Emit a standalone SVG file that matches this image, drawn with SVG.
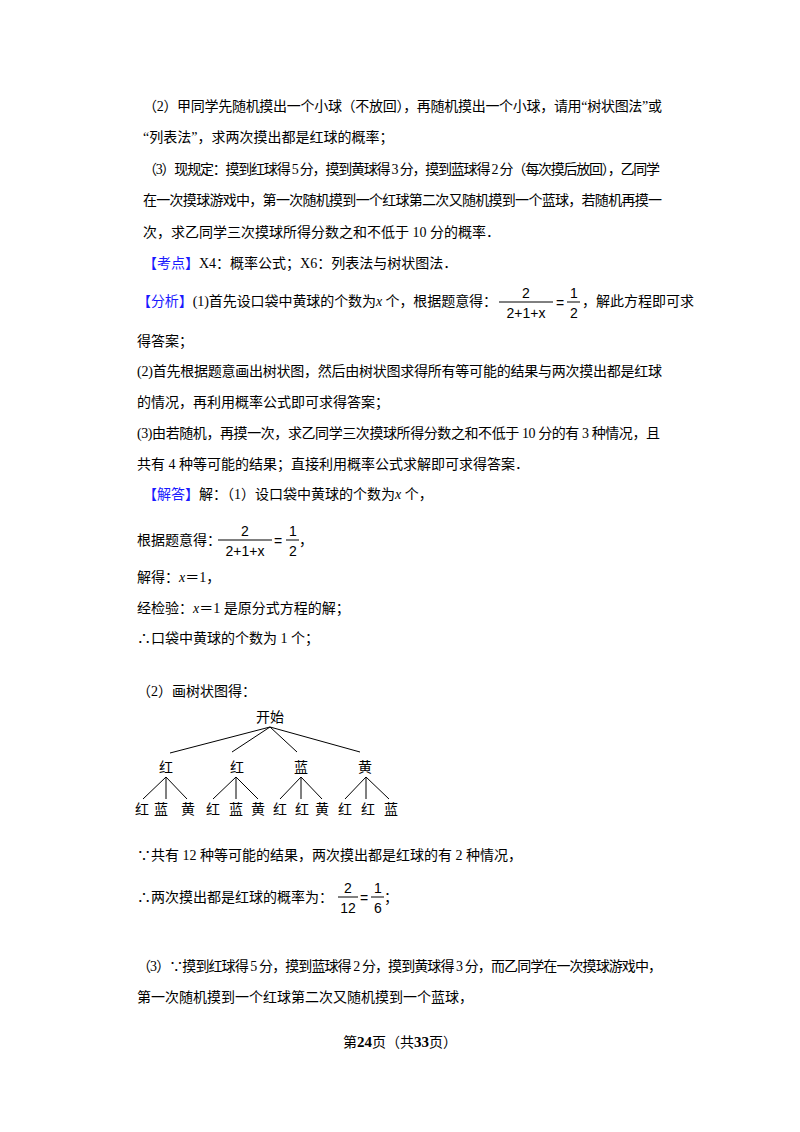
<svg xmlns="http://www.w3.org/2000/svg" width="800" height="1132" viewBox="0 0 800 1132">
<style>
text{font-family:"Liberation Serif","Noto Sans CJK SC",serif;font-size:14px;fill:#000}
.b{fill:#1a1aff}
.s{font-family:"Liberation Sans","Noto Sans CJK SC",sans-serif;font-size:14px}
.t{font-family:"Noto Sans CJK SC",sans-serif;font-size:14px}
line{stroke:#000;stroke-width:1}
</style>
<rect width="800" height="1132" fill="#fff"/>
<text x="143" y="111" textLength="519" lengthAdjust="spacing">（2）甲同学先随机摸出一个小球（不放回），再随机摸出一个小球，请用“树状图法”或</text>
<text x="143" y="142">“列表法”，求两次摸出都是红球的概率；</text>
<text x="143" y="174" textLength="517" lengthAdjust="spacing">（3）现规定：摸到红球得 5 分，摸到黄球得 3 分，摸到蓝球得 2 分（每次摸后放回），乙同学</text>
<text x="143" y="205" textLength="519" lengthAdjust="spacing">在一次摸球游戏中，第一次随机摸到一个红球第二次又随机摸到一个蓝球，若随机再摸一</text>
<text x="143" y="237">次，求乙同学三次摸球所得分数之和不低于 10 分的概率．</text>
<text x="143" y="268"><tspan class="b">【考点】</tspan>X4：概率公式；X6：列表法与树状图法．</text>
<text x="137" y="306" textLength="360" lengthAdjust="spacing"><tspan class="b">【分析】</tspan>(1)首先设口袋中黄球的个数为<tspan font-style="italic">x</tspan> 个，根据题意得：</text>
<g id="frac1">
<text class="s" x="526" y="298" text-anchor="middle">2</text>
<line x1="499" y1="302" x2="553" y2="302"/>
<text class="s" x="526" y="318" text-anchor="middle">2+1+x</text>
<text class="s" x="556" y="308">=</text>
<text class="s" x="570" y="298">1</text>
<line x1="567" y1="302" x2="580" y2="302"/>
<text class="s" x="570" y="318">2</text>
<text x="582" y="306">，解此方程即可求</text>
</g>
<text x="137" y="346">得答案；</text>
<text x="137" y="376" textLength="525" lengthAdjust="spacing">(2)首先根据题意画出树状图，然后由树状图求得所有等可能的结果与两次摸出都是红球</text>
<text x="137" y="407">的情况，再利用概率公式即可求得答案；</text>
<text x="137" y="438" textLength="523" lengthAdjust="spacing">(3)由若随机，再摸一次，求乙同学三次摸球所得分数之和不低于 10 分的有 3 种情况，且</text>
<text x="137" y="469">共有 4 种等可能的结果；直接利用概率公式求解即可求得答案．</text>
<text x="143" y="499"><tspan class="b">【解答】</tspan>解：（1）设口袋中黄球的个数为<tspan font-style="italic">x</tspan> 个，</text>
<text x="137" y="545">根据题意得：</text>
<g id="frac2">
<text class="s" x="245" y="536" text-anchor="middle">2</text>
<line x1="218" y1="540" x2="272" y2="540"/>
<text class="s" x="245" y="556" text-anchor="middle">2+1+x</text>
<text class="s" x="274" y="546">=</text>
<text class="s" x="289" y="536">1</text>
<line x1="286" y1="540" x2="299" y2="540"/>
<text class="s" x="289" y="556">2</text>
<text x="299" y="545">，</text>
</g>
<text x="137" y="582">解得：<tspan font-style="italic">x</tspan>＝1，</text>
<text x="137" y="613">经检验：<tspan font-style="italic">x</tspan>＝1 是原分式方程的解；</text>
<text x="137" y="643">∴口袋中黄球的个数为 1 个；</text>
<text x="137" y="696">（2）画树状图得：</text>
<g id="tree">
<g id="connectors">
<line x1="270" y1="727" x2="170" y2="753"/>
<line x1="270" y1="727" x2="232" y2="752"/>
<line x1="270" y1="727" x2="297" y2="752"/>
<line x1="270" y1="727" x2="360" y2="752"/>
<line x1="166" y1="777" x2="143" y2="799"/>
<line x1="166" y1="777" x2="166" y2="799"/>
<line x1="166" y1="777" x2="187" y2="799"/>
<line x1="236" y1="777" x2="213" y2="799"/>
<line x1="236" y1="777" x2="236" y2="799"/>
<line x1="236" y1="777" x2="258" y2="799"/>
<line x1="301" y1="777" x2="280" y2="799"/>
<line x1="301" y1="777" x2="301" y2="799"/>
<line x1="301" y1="777" x2="322" y2="799"/>
<line x1="366" y1="777" x2="345" y2="799"/>
<line x1="366" y1="777" x2="366" y2="799"/>
<line x1="366" y1="777" x2="389" y2="799"/>
</g>
<g id="n0"><text class="t" x="270" y="722" text-anchor="middle">开始</text></g>
<g id="n1"><text class="t" x="166" y="772" text-anchor="middle">红</text></g>
<g id="n2"><text class="t" x="237" y="772" text-anchor="middle">红</text></g>
<g id="n3"><text class="t" x="301" y="772" text-anchor="middle">蓝</text></g>
<g id="n4"><text class="t" x="365" y="772" text-anchor="middle">黄</text></g>
<g id="l1"><text class="t" x="142" y="814" text-anchor="middle">红</text></g>
<g id="l2"><text class="t" x="161" y="814" text-anchor="middle">蓝</text></g>
<g id="l3"><text class="t" x="188" y="814" text-anchor="middle">黄</text></g>
<g id="l4"><text class="t" x="213" y="814" text-anchor="middle">红</text></g>
<g id="l5"><text class="t" x="236" y="814" text-anchor="middle">蓝</text></g>
<g id="l6"><text class="t" x="258" y="814" text-anchor="middle">黄</text></g>
<g id="l7"><text class="t" x="280" y="814" text-anchor="middle">红</text></g>
<g id="l8"><text class="t" x="302" y="814" text-anchor="middle">红</text></g>
<g id="l9"><text class="t" x="322" y="814" text-anchor="middle">黄</text></g>
<g id="l10"><text class="t" x="345" y="814" text-anchor="middle">红</text></g>
<g id="l11"><text class="t" x="368" y="814" text-anchor="middle">红</text></g>
<g id="l12"><text class="t" x="391" y="814" text-anchor="middle">蓝</text></g>
</g>
<text x="137" y="860">∵共有 12 种等可能的结果，两次摸出都是红球的有 2 种情况，</text>
<text x="137" y="902">∴两次摸出都是红球的概率为：</text>
<g id="frac3">
<text class="s" x="348" y="893" text-anchor="middle">2</text>
<line x1="338" y1="897" x2="358" y2="897"/>
<text class="s" x="348" y="913" text-anchor="middle">12</text>
<text class="s" x="360" y="903">=</text>
<text class="s" x="374" y="893">1</text>
<line x1="371" y1="897" x2="384" y2="897"/>
<text class="s" x="374" y="913">6</text>
<text x="384" y="902">；</text>
</g>
<text x="137" y="971" textLength="525" lengthAdjust="spacing">（3）∵摸到红球得 5 分，摸到蓝球得 2 分，摸到黄球得 3 分，而乙同学在一次摸球游戏中，</text>
<text x="137" y="1002">第一次随机摸到一个红球第二次又随机摸到一个蓝球，</text>
<text x="400" y="1047" text-anchor="middle" font-size="13">第<tspan font-weight="bold" font-size="15">24</tspan>页（共<tspan font-weight="bold" font-size="15">33</tspan>页）</text>
</svg>
